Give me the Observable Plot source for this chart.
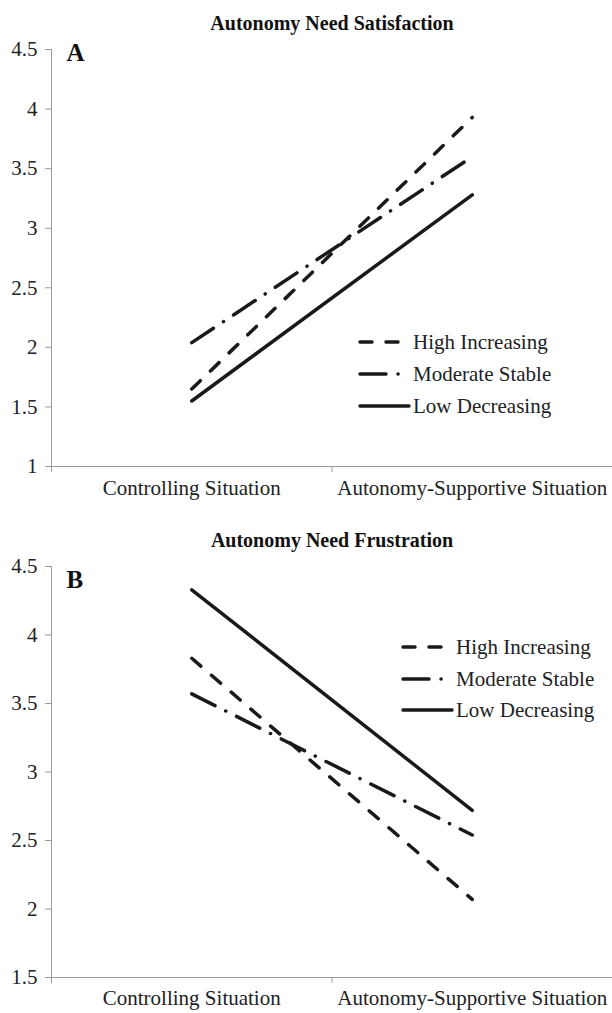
<!DOCTYPE html>
<html>
<head>
<meta charset="utf-8">
<script src="https://cdn.jsdelivr.net/npm/d3@7"></script>
<script src="https://cdn.jsdelivr.net/npm/@observablehq/plot@0.6"></script>
<style>
  html, body { margin: 0; padding: 0; background: #fff; }
  #root { width: 612px; position: relative; }
  .panel { position: relative; width: 612px; }
  .panel svg { display: block; }
  .legend-row { position: absolute; display: flex; align-items: center; height: 32px;
    font-family: "Liberation Serif", "Times New Roman", serif; font-size: 21px; color: #222; white-space: nowrap; }
  .legend-row svg { display: block; }
</style>
</head>
<body>
<div id="root"></div>
<script>
// ---- data ----
const categories = ["Controlling Situation", "Autonomy-Supportive Situation"];
const seriesNames = ["High Increasing", "Moderate Stable", "Low Decreasing"];

const titleA = "Autonomy Need Satisfaction";
const titleB = "Autonomy Need Frustration";

const satHigh = [1.65, 3.93];
const satModerate = [2.04, 3.60];
const satLow = [1.55, 3.28];

const fruHigh = [3.83, 2.07];
const fruModerate = [3.57, 2.54];
const fruLow = [4.33, 2.72];

const yTicksA = [1, 1.5, 2, 2.5, 3, 3.5, 4, 4.5];
const yTicksB = [1.5, 2, 2.5, 3, 3.5, 4, 4.5];

// ---- styles ----
const ink = "#1a1a1a";
const axisGray = "#9a9a9a";
const dashes = ["12,14", "26,12,0.1,12", null];
const font = "Liberation Serif, Times New Roman, serif";

function rowsFor(values) {
  return values.map((v, i) => ({cat: categories[i], x: i + 0.5, value: v}));
}

function panel({title, letter, letterDy, series, yDomain, yTicks, height, marginTop, marginBottom, labelPad}) {
  const lineMarks = series.map((vals, k) =>
    Plot.line(rowsFor(vals), {
      x: "x", y: "value", stroke: ink, strokeWidth: 3.5,
      strokeLinecap: "round", strokeDasharray: dashes[k] ?? undefined
    })
  );
  return Plot.plot({
    width: 612, height, marginTop, marginBottom, marginLeft: 51, marginRight: 0,
    style: {fontFamily: font, fontSize: "21px", color: "#222", background: "white", overflow: "visible"},
    x: {domain: [0, categories.length]},
    y: {domain: yDomain},
    marks: [
      Plot.axisY(yTicks, {tickSize: 6, tickPadding: 8, stroke: axisGray, fill: "#222",
        tickFormat: d => String(d), label: null}),
      Plot.axisX(d3.range(categories.length + 1), {tickSize: 6, tickFormat: () => "", stroke: axisGray, label: null}),
      Plot.axisX(categories.map((c, i) => i + 0.5), {tickSize: 0, tickPadding: labelPad, fill: "#222",
        tickFormat: d => categories[Math.floor(d)], label: null}),
      Plot.ruleX([0], {stroke: axisGray, strokeWidth: 1}),
      Plot.ruleY([yDomain[0]], {stroke: axisGray, strokeWidth: 1}),
      Plot.text([title], {text: d => d, frameAnchor: "top", lineAnchor: "middle", dy: -26,
        fontWeight: "bold", fontSize: 20, fill: "#111"}),
      Plot.text([letter], {text: d => d, frameAnchor: "top-left", lineAnchor: "middle", dx: 15, dy: letterDy,
        textAnchor: "start", fontWeight: "bold", fontSize: 25, fill: "#111"}),
      ...lineMarks
    ]
  });
}

function legend(container, left, rowCenters) {
  seriesNames.forEach((name, k) => {
    const row = document.createElement("div");
    row.className = "legend-row";
    row.style.left = left + "px";
    row.style.top = (rowCenters[k] - 16) + "px";
    const da = dashes[k] ? ` stroke-dasharray="${dashes[k]}"` : "";
    row.innerHTML = `<svg width="55" height="32"><line x1="2" x2="51" y1="16" y2="16" stroke="${ink}" stroke-width="3.5" stroke-linecap="round"${da}/></svg><span>${name}</span>`;
    container.appendChild(row);
  });
}

const root = document.getElementById("root");

const pA = document.createElement("div");
pA.className = "panel";
pA.appendChild(panel({
  title: titleA, letter: "A", letterDy: 3,
  series: [satHigh, satModerate, satLow],
  yDomain: [1, 4.5], yTicks: yTicksA,
  height: 505, marginTop: 49, marginBottom: 39, labelPad: 14
}));
legend(pA, 358, [342, 374, 406]);
root.appendChild(pA);

const pB = document.createElement("div");
pB.className = "panel";
pB.appendChild(panel({
  title: titleB, letter: "B", letterDy: 13,
  series: [fruHigh, fruModerate, fruLow],
  yDomain: [1.5, 4.5], yTicks: yTicksB,
  height: 508, marginTop: 61, marginBottom: 36, labelPad: 13
}));
legend(pB, 401, [142, 174, 205]);
root.appendChild(pB);
</script>
</body>
</html>
